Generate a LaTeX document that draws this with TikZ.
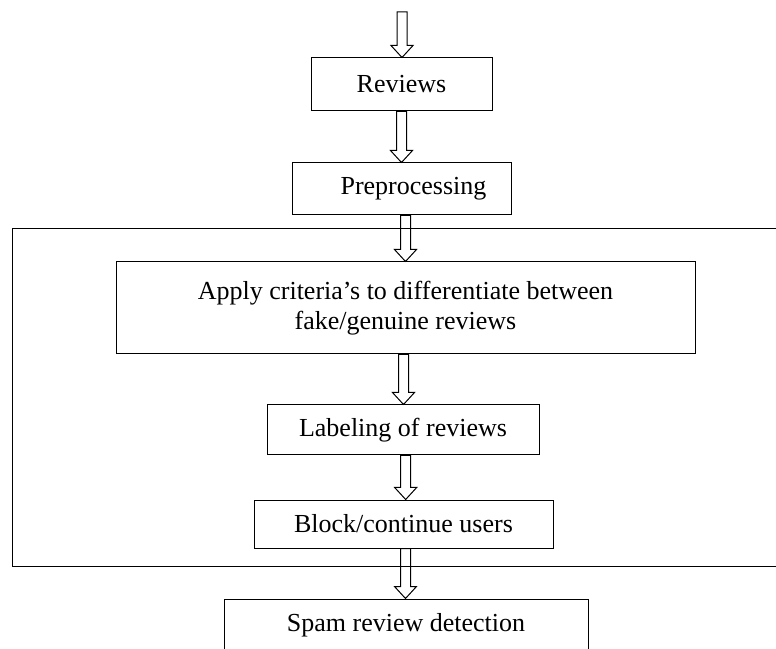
\documentclass[tikz,border=0pt]{standalone}
\usepackage{fontspec}
\setmainfont{Liberation Serif}
\usetikzlibrary{calc}
\tikzset{
  box/.style={draw, line width=0.75pt, inner sep=0pt, align=center,
    font=\fontsize{19.5}{22.5}\selectfont},
  blockarrow/.style={line width=0.75pt, to path={
    let \p1=(\tikztostart), \p2=(\tikztotarget) in
    (\x1-3.75pt,\y1) -- (\x1-3.75pt,\y2+9pt) -- (\x1-8.25pt,\y2+9pt) -- (\x1,\y2)
    -- (\x1+8.25pt,\y2+9pt) -- (\x1+3.75pt,\y2+9pt) -- (\x1+3.75pt,\y1) -- cycle}}
}
\begin{document}
\begin{tikzpicture}[x=0.75pt, y=-0.75pt]
    \useasboundingbox (0,0) rectangle (776,649);
    \clip (0,0) rectangle (776,649);
    % outer frame, cut off on the right
    \draw[line width=0.75pt] (12,229) rectangle (800,566);
    \coordinate (in) at (402,12);
    \node[box, minimum width=181*0.75pt, minimum height=53*0.75pt] (rev) at (401.5,84.5) {Reviews};
    \node[box, minimum width=219*0.75pt, minimum height=52*0.75pt] (pre) at (401.5,189) {\hspace*{18pt}Preprocessing};
    \node[box, minimum width=579*0.75pt, minimum height=92*0.75pt] (crit) at (405.5,308)
        {Apply criteria’s to differentiate between\\fake/genuine reviews};
    \node[box, minimum width=272*0.75pt, minimum height=50*0.75pt] (lab) at (403,430) {Labeling of reviews};
    \node[box, minimum width=299*0.75pt, minimum height=48*0.75pt] (blk) at (403.5,524) {Block/continue users};
    \node[box, minimum width=364*0.75pt, minimum height=52*0.75pt] (spam) at (406,625) {Spam review detection};
    \draw[blockarrow] (in) to (rev.north);
    \draw[blockarrow] (rev.south) to (pre.north);
    \draw[blockarrow] ([xshift=3pt]pre.south) to ([xshift=3pt]crit.north);
    \draw[blockarrow] ([xshift=-1.5pt]crit.south) to ([xshift=-1.5pt]lab.north);
    \draw[blockarrow] ([xshift=2pt]lab.south) to ([xshift=2pt]blk.north);
    \draw[blockarrow] ([xshift=1.5pt]blk.south) to ([xshift=1.5pt]spam.north);
\end{tikzpicture}
\end{document}
